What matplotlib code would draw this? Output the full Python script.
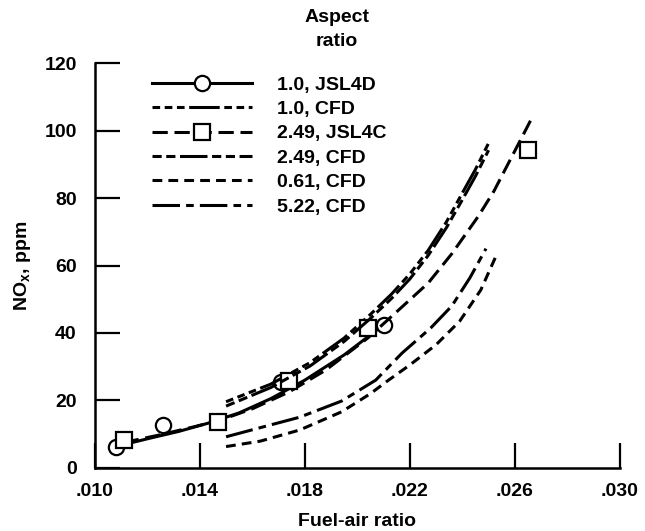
import matplotlib.pyplot as plt

plt.rcParams['font.family'] = 'Liberation Sans'
plt.rcParams['font.weight'] = 'bold'
plt.rcParams['mathtext.fontset'] = 'custom'
plt.rcParams['mathtext.rm'] = 'Liberation Sans:bold'
plt.rcParams['mathtext.it'] = 'Liberation Sans:bold'
plt.rcParams['mathtext.bf'] = 'Liberation Sans:bold'

# measured points
jsl4d_far = [0.0108, 0.0126, 0.0171, 0.0210]
jsl4d_nox = [6.2, 12.7, 25.5, 42.4]
jsl4c_far = [0.0111, 0.0147, 0.0174, 0.0204, 0.0265]
jsl4c_nox = [8.3, 13.6, 25.8, 41.5, 94.2]

# fitted curves through the test data
fit_d_far = [0.0109, 0.0120, 0.0132, 0.0143, 0.0155, 0.0167, 0.0180, 0.0195, 0.0210]
fit_d_nox = [6.5, 8.6, 10.8, 13.2, 16.3, 20.5, 26.0, 33.5, 42.4]
fit_c_far = [0.0111, 0.0125, 0.0138, 0.0148, 0.0160, 0.0174, 0.0188, 0.0204,
             0.0217, 0.0227, 0.0236, 0.0246, 0.0252, 0.0258, 0.0266]
fit_c_nox = [7.5, 9.8, 12.2, 14.2, 17.5, 22.5, 29.0, 38.5,
             47.7, 54.8, 63.5, 74.5, 82.0, 91.0, 103.0]

# CFD predictions
cfd_far = [0.0150, 0.0167, 0.0182, 0.0195, 0.0205, 0.0213, 0.0220, 0.0227,
           0.0234, 0.0240, 0.0245, 0.0250]
cfd_10 = [19.6, 24.8, 31.2, 38.5, 45.5, 51.5, 57.5, 64.5, 73.0, 81.5, 88.5, 96.3]
cfd_249 = [18.3, 23.8, 30.2, 37.5, 44.3, 50.2, 56.0, 63.0, 71.3, 79.5, 86.5, 94.2]

cfd_522_far = [0.0150, 0.0163, 0.0178, 0.0194, 0.0207, 0.0212, 0.0217, 0.0228,
               0.0236, 0.0243, 0.0249]
cfd_522 = [9.2, 11.9, 15.0, 19.8, 26.0, 30.0, 34.0, 41.5, 48.0, 56.5, 65.0]
cfd_061_far = [0.0150, 0.0163, 0.0178, 0.0194, 0.0205, 0.0211, 0.0220, 0.0230,
               0.0239, 0.0247, 0.0253]
cfd_061 = [6.3, 7.9, 11.2, 16.6, 22.0, 25.5, 30.5, 36.5, 43.5, 52.7, 63.1]

labels = ['1.0, JSL4D', '1.0, CFD', '2.49, JSL4C', '2.49, CFD', '0.61, CFD', '5.22, CFD']
xticks = [0.010, 0.014, 0.018, 0.022, 0.026, 0.030]
xticklabels = ['.010', '.014', '.018', '.022', '.026', '.030']

fs = 14
fig = plt.figure(figsize=(6.45, 5.31), dpi=100)
ax = fig.add_axes([0.147, 0.119, 0.814, 0.762])

lw = 2.2
ls_cfd10 = (0, (2.5, 1.5, 2.5, 1.5, 2.5, 1.5, 10, 1.5))
ls_jsl4c = (0, (5, 2.2))
ls_cfd249 = (0, (3, 1.5, 3, 1.5, 9, 1.5))
ls_cfd061 = (0, (3.2, 2))
ls_cfd522 = (0, (9, 2, 2.5, 2))

ax.plot(fit_d_far, fit_d_nox, color='black', lw=lw, linestyle='-')
ax.plot(jsl4d_far, jsl4d_nox, 'o', mfc='white', mec='black', ms=11, mew=1.6)
ax.plot(cfd_far, cfd_10, color='black', lw=lw, linestyle=ls_cfd10)
ax.plot(fit_c_far, fit_c_nox, color='black', lw=lw, linestyle=ls_jsl4c)
ax.plot(jsl4c_far, jsl4c_nox, 's', mfc='white', mec='black', ms=11, mew=1.6)
ax.plot(cfd_far, cfd_249, color='black', lw=lw, linestyle=ls_cfd249)
ax.plot(cfd_061_far, cfd_061, color='black', lw=lw, linestyle=ls_cfd061)
ax.plot(cfd_522_far, cfd_522, color='black', lw=lw, linestyle=ls_cfd522)

# legend entries
h1, = ax.plot([], [], color='black', lw=lw, marker='o', mfc='white', mec='black', ms=11, mew=1.6)
h2, = ax.plot([], [], color='black', lw=lw, linestyle=ls_cfd10)
h3, = ax.plot([], [], color='black', lw=lw, linestyle=ls_jsl4c, marker='s',
              mfc='white', mec='black', ms=11, mew=1.6)
h4, = ax.plot([], [], color='black', lw=lw, linestyle=ls_cfd249)
h5, = ax.plot([], [], color='black', lw=lw, linestyle=ls_cfd061)
h6, = ax.plot([], [], color='black', lw=lw, linestyle=ls_cfd522)
leg = ax.legend([h1, h2, h3, h4, h5, h6], labels, loc='upper left',
                bbox_to_anchor=(152 / 645, 1 - 76 / 531), bbox_transform=fig.transFigure,
                frameon=False, fontsize=fs, handlelength=5.15, handletextpad=1.3,
                labelspacing=0.35, borderpad=0, borderaxespad=0, markerscale=1)
fig.text(337 / 645, 1 - 18 / 531, 'Aspect', ha='center', va='center', fontsize=fs, fontweight='bold')
fig.text(337 / 645, 1 - 42 / 531, 'ratio', ha='center', va='center', fontsize=fs, fontweight='bold')

ax.set_xlim(0.010, 0.030)
ax.set_ylim(0, 120)
ax.set_xticks(xticks)
ax.set_xticklabels(xticklabels)
ax.set_yticks(range(0, 121, 20))
ax.spines['top'].set_visible(False)
ax.spines['right'].set_visible(False)
ax.spines['left'].set_linewidth(1.8)
ax.spines['bottom'].set_linewidth(1.8)
ax.tick_params(direction='in', length=18, width=1.6, labelsize=fs)
ax.tick_params(axis='x', pad=11)
ax.tick_params(axis='y', pad=13)

ax.set_xlabel('Fuel-air ratio', fontsize=fs, fontweight='bold', labelpad=9)
ax.set_ylabel(r'NO$_\mathregular{x}$, ppm', fontsize=fs, fontweight='bold', labelpad=8)

fig.savefig('out.png', dpi=100)
